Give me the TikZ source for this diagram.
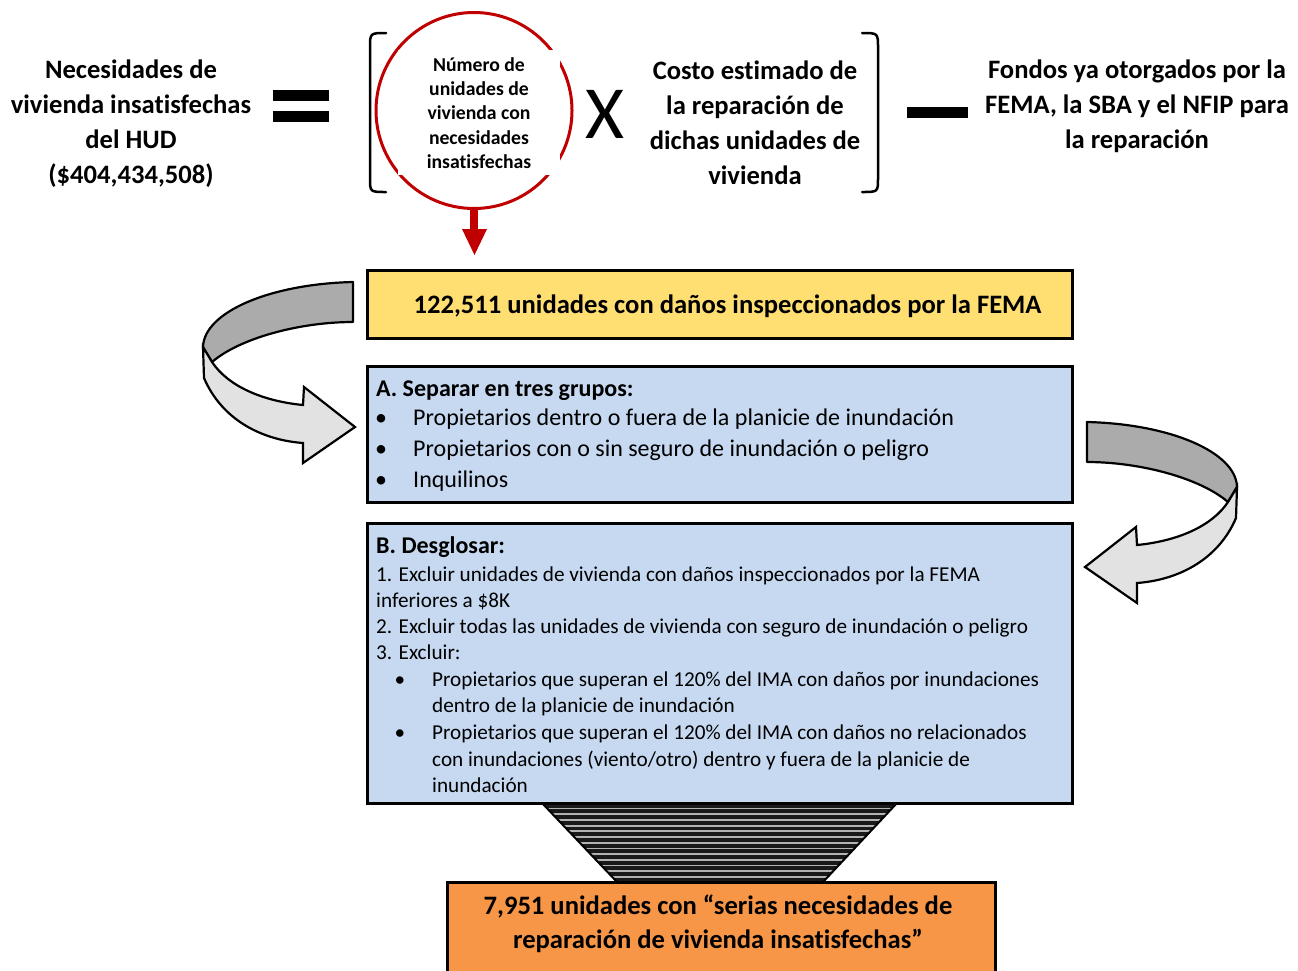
\documentclass[tikz,border=0pt]{standalone}
\usepackage{fontspec}
\setmainfont{Carlito}[Ligatures=NoCommon]
\definecolor{boxyellow}{HTML}{FFDF72}
\definecolor{boxblue}{HTML}{C6D9F1}
\definecolor{boxorange}{HTML}{F79646}
\definecolor{circred}{HTML}{C00000}
\definecolor{ribbondark}{HTML}{ABABAB}
\definecolor{ribbonlight}{HTML}{E2E2E2}
\newcommand{\ribbonarrow}{%
  \fill[ribbondark,draw=black,line width=2.2pt,line join=round]
    (353,282) .. controls (270,284) and (204,312) .. (203,347)
    -- (212,362) .. controls (240,338) and (300,322) .. (353,322) -- cycle;
  \fill[ribbonlight,draw=black,line width=2.2pt,line join=miter]
    (203,347) -- (204,378) .. controls (222,420) and (262,440) .. (303,443)
    -- (303,463) -- (355,427) -- (304,387) -- (303,405)
    .. controls (262,401) and (228,386) .. (212,362) -- cycle;
}
\begin{document}
\begin{tikzpicture}[x=1pt,y=-1pt,
  box/.style={draw=black,line width=3pt},
  bigtext/.style={font=\bfseries\fontsize{26.6}{35}\selectfont,align=center,inner sep=0pt},
  circtext/.style={font=\bfseries\fontsize{19.7}{24.4}\selectfont,align=center,inner sep=0pt},
  headA/.style={font=\bfseries\fontsize{24}{31}\selectfont,anchor=base west,inner sep=0pt},
  itemA/.style={font=\fontsize{24}{31}\selectfont,anchor=base west,inner sep=0pt},
  itemB/.style={font=\fontsize{21.2}{26}\selectfont,anchor=base west,inner sep=0pt},
  bulletA/.style={font=\fontsize{24}{31}\selectfont,anchor=base,inner sep=0pt},
  bulletB/.style={font=\fontsize{21.2}{26}\selectfont,anchor=base,inner sep=0pt},
  bar/.style={fill=black}]
\useasboundingbox (0,0) rectangle (1298,970);

% ---------- equation ----------
\node[bigtext] (hud) at (131,124) {Necesidades de\\vivienda insatisfechas\\del HUD\\(\$404,434,508)};
\fill[bar] (273,90) rectangle (329,101);
\fill[bar] (273,111) rectangle (329,122);
\draw[line width=2.5pt,line cap=round] (386,33) .. controls (370,33) .. (370,48) -- (370,178) .. controls (370,192) .. (386,192);
\draw[line width=2.5pt,line cap=round] (862,33) .. controls (878,33) .. (878,48) -- (878,178) .. controls (878,192) .. (862,192);
\node[circle,draw=circred,line width=3pt,minimum size=196pt,inner sep=0pt] (circ) at (474,110.5) {};
\fill[white] (398,50) rectangle (560,175);
\node[circtext] (circlbl) at (479,113) {Número de\\unidades de\\vivienda con\\necesidades\\insatisfechas};
\node[font=\fontsize{75}{75}\selectfont,inner sep=0pt] (times) at (605,114) {X};
\node[bigtext] (costo) at (755,122.5) {Costo estimado de\\la reparación de\\dichas unidades de\\vivienda};
\fill[bar] (907,107) rectangle (968,118);
\node[bigtext] (fondos) at (1137,106) {Fondos ya otorgados por la\\FEMA, la SBA y el NFIP para\\la reparación};
\coordinate (arrtip) at (474.5,255);
\fill[circred] (circ.south) ++(-4,0) rectangle ++(8,21);
\fill[circred] (462,229) -- (487,229) -- (arrtip) -- cycle;

% ---------- funnel ----------
\begin{scope}
  \clip (542,803) -- (897,803) -- (823,882) -- (617,882) -- cycle;
  \fill[gray!20!black] (540,800) rectangle (900,885);
  \foreach \yy in {808.5,814.2,...,882} {
    \draw[gray!60,line width=1.8pt] (540,\yy) -- (900,\yy);
  }
\end{scope}
\draw[line width=2pt] (542,803) -- (617,882);
\draw[line width=2pt] (897,803) -- (823,882);

% ---------- boxes ----------
\node[box,fill=boxyellow,minimum width=705pt,minimum height=68pt,inner sep=0pt] (yel) at (719.5,304) {};
\node[font=\bfseries\fontsize{26.6}{30}\selectfont,inner sep=0pt] (yeltext) at (727.5,306) {122,511 unidades con daños inspeccionados por la FEMA};

\node[box,fill=boxblue,minimum width=705pt,minimum height=136pt,inner sep=0pt] (boxA) at (719.5,434) {};
\node[headA] (a0) at (376,396.5) {A. Separar en tres grupos:};
\node[bulletA] (ab1) at (381,425.5) {•};
\node[itemA] (a1) at (413,425.5) {Propietarios dentro o fuera de la planicie de inundación};
\node[bulletA] (ab2) at (381,456.5) {•};
\node[itemA] (a2) at (413,456.5) {Propietarios con o sin seguro de inundación o peligro};
\node[bulletA] (ab3) at (381,487.5) {•};
\node[itemA] (a3) at (413,487.5) {Inquilinos};

\node[box,fill=boxblue,minimum width=705pt,minimum height=280pt,inner sep=0pt] (boxB) at (719.5,663) {};
\node[headA] (b0) at (376,553.5) {B. Desglosar:};
\node[itemB] (b1) at (376,581) {1. Excluir unidades de vivienda con daños inspeccionados por la FEMA};
\node[itemB] (b2) at (376,607) {inferiores a \$8K};
\node[itemB] (b3) at (376,633) {2. Excluir todas las unidades de vivienda con seguro de inundación o peligro};
\node[itemB] (b4) at (376,659) {3. Excluir:};
\node[bulletB] (bb1) at (400,686) {•};
\node[itemB] (b5) at (432,686) {Propietarios que superan el 120\% del IMA con daños por inundaciones};
\node[itemB] (b6) at (432,712) {dentro de la planicie de inundación};
\node[bulletB] (bb2) at (400,739) {•};
\node[itemB] (b7) at (432,739) {Propietarios que superan el 120\% del IMA con daños no relacionados};
\node[itemB] (b8) at (432,766) {con inundaciones (viento/otro) dentro y fuera de la planicie de};
\node[itemB] (b9) at (432,792) {inundación};

\draw[box,fill=boxorange] (447,882) rectangle (995,978);
\node[bigtext,font=\bfseries\fontsize{26.6}{34}\selectfont] (orgtext) at (718,924) {7,951 unidades con “serias necesidades de\\reparación de vivienda insatisfechas”};

% ---------- ribbon arrows ----------
\ribbonarrow
\begin{scope}[shift={(1440,140)},xscale=-1]
  \ribbonarrow
\end{scope}
\end{tikzpicture}
\end{document}
